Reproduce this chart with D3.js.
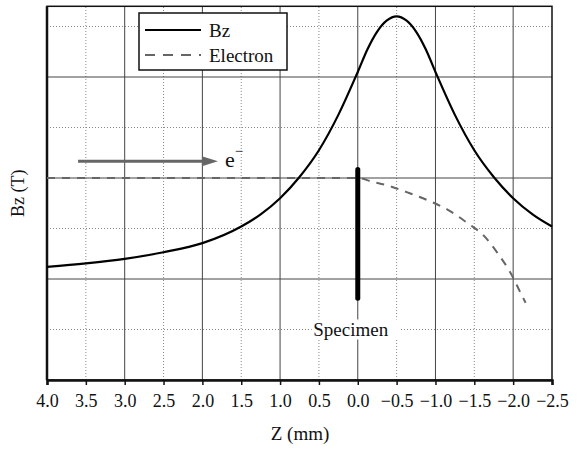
<!DOCTYPE html>
<html>
<head>
<meta charset="utf-8">
<script src="https://cdn.jsdelivr.net/npm/d3@7"></script>
<style>
  body { margin: 0; background: #fff; }
  svg text { font-family: "Liberation Serif", "Times New Roman", "DejaVu Serif", serif; fill: #111; }
</style>
</head>
<body>
<div id="chart"></div>
<script>
// Bz field profile along the optical axis
const bzZ = [4.0, 3.5, 3.0, 2.5, 2.0, 1.5, 1.25, 1.0, 0.75, 0.5, 0.25, 0.0, -0.125, -0.25, -0.375, -0.5,
             -0.625, -0.75, -0.875, -1.0, -1.25, -1.5, -1.75, -2.0, -2.25, -2.5];
const bzVal = [2.24, 2.31, 2.40, 2.53, 2.71, 3.04, 3.28, 3.60, 4.02, 4.55, 5.25, 6.1, 6.55, 6.9, 7.12, 7.2,
               7.12, 6.9, 6.55, 6.1, 5.25, 4.55, 4.02, 3.60, 3.28, 3.04];

// electron trajectory
const elZ = [4.0, 2.0, 0.0, -0.18, -0.41, -0.63, -0.9, -1.16, -1.41, -1.64, -1.8, -1.96, -2.11, -2.16];
const elVal = [4.0, 4.0, 4.0, 3.93, 3.84, 3.72, 3.56, 3.37, 3.11, 2.83, 2.51, 2.14, 1.68, 1.53];

const xTicks = [4.0, 3.5, 3.0, 2.5, 2.0, 1.5, 1.0, 0.5, 0.0, -0.5, -1.0, -1.5, -2.0, -2.5];
const xMajor = [3.0, 2.0, 1.0, 0.0, -1.0, -2.0];
const yGrid = [1, 2, 3, 4, 5, 6, 7];
const yMajor = [2, 4, 6];

// annotations
const arrowZ = [3.6, 1.8];
const arrowB = 4.33;
const specimenZ = 0.0;
const specimenB = [4.17, 1.62];

const W = 582, H = 450;
const serif = "Liberation Serif, Times New Roman, DejaVu Serif, serif";
const svg = d3.select("#chart").append("svg")
    .attr("width", W)
    .attr("height", H)
    .attr("font-family", serif);

const x = d3.scaleLinear().domain([4.0, -2.5]).range([47, 552]);
const y = d3.scaleLinear().domain([0, 7.4]).range([380, 6.3]);

// grid
const grid = svg.append("g");
grid.selectAll(".vg")
    .data(xTicks.slice(1, -1))
    .enter().append("line")
    .attr("x1", d => x(d)).attr("x2", d => x(d))
    .attr("y1", y(0)).attr("y2", y(7.4))
    .attr("stroke", d => xMajor.includes(d) ? "#444" : "#888")
    .attr("stroke-width", 1)
    .attr("stroke-dasharray", d => xMajor.includes(d) ? null : "1,2");

grid.selectAll(".hg")
    .data(yGrid)
    .enter().append("line")
    .attr("x1", x(4.0)).attr("x2", x(-2.5))
    .attr("y1", d => y(d)).attr("y2", d => y(d))
    .attr("stroke", d => yMajor.includes(d) ? "#444" : "#888")
    .attr("stroke-width", 1)
    .attr("stroke-dasharray", d => yMajor.includes(d) ? null : "1,2");

// frame
svg.append("rect")
    .attr("x", x(4.0)).attr("y", y(7.4))
    .attr("width", x(-2.5) - x(4.0))
    .attr("height", y(0) - y(7.4))
    .attr("fill", "none")
    .attr("stroke", "#111")
    .attr("stroke-width", 1.5);

// x axis
const xAxis = d3.axisBottom(x)
    .tickValues(xTicks)
    .tickSize(5)
    .tickFormat(d3.format(".1f"));

const gx = svg.append("g")
    .attr("transform", `translate(0,${y(0)})`)
    .call(xAxis)
    .attr("font-family", serif);
gx.select(".domain").attr("stroke", "#111").attr("stroke-width", 2.5);
gx.selectAll(".tick line").attr("stroke", "#111").attr("stroke-width", 1.5);
gx.selectAll(".tick text")
    .attr("y", 14)
    .style("font-size", "18px")
    .attr("fill", "#111");

// left axis line
svg.append("line")
    .attr("x1", x(4.0)).attr("x2", x(4.0))
    .attr("y1", y(0)).attr("y2", y(7.4))
    .attr("stroke", "#111")
    .attr("stroke-width", 2.5);

// Specimen label with white background
const specG = svg.append("g");
specG.append("rect")
    .attr("x", x(specimenZ) - 46).attr("y", y(1) - 10)
    .attr("width", 88).attr("height", 20)
    .attr("fill", "#fff");
specG.append("text")
    .attr("x", x(specimenZ) - 7)
    .attr("y", y(1) + 6)
    .attr("text-anchor", "middle")
    .style("font-size", "19px")
    .text("Specimen");

// electron path
const elData = elZ.map((z, i) => [z, elVal[i]]);
svg.append("path")
    .datum(elData)
    .attr("fill", "none")
    .attr("stroke", "#666")
    .attr("stroke-width", 2)
    .attr("stroke-dasharray", "8,7")
    .attr("d", d3.line()
        .x(d => x(d[0]))
        .y(d => y(d[1]))
        .curve(d3.curveMonotoneX));

// Bz curve
const bzData = bzZ.map((z, i) => [z, bzVal[i]]);
svg.append("path")
    .datum(bzData)
    .attr("fill", "none")
    .attr("stroke", "#000")
    .attr("stroke-width", 2.2)
    .attr("d", d3.line()
        .x(d => x(d[0]))
        .y(d => y(d[1]))
        .curve(d3.curveMonotoneX));

// specimen bar
svg.append("line")
    .attr("x1", x(specimenZ)).attr("x2", x(specimenZ))
    .attr("y1", y(specimenB[0])).attr("y2", y(specimenB[1]))
    .attr("stroke", "#000")
    .attr("stroke-width", 5)
    .attr("stroke-linecap", "round");

// electron arrow
svg.append("line")
    .attr("x1", x(arrowZ[0])).attr("x2", x(arrowZ[1]) - 12)
    .attr("y1", y(arrowB)).attr("y2", y(arrowB))
    .attr("stroke", "#666")
    .attr("stroke-width", 3);
const ax = x(arrowZ[1]), ay = y(arrowB);
svg.append("path")
    .attr("d", `M${ax},${ay} L${ax - 16},${ay - 5} L${ax - 16},${ay + 5} Z`)
    .attr("fill", "#666");
const eText = svg.append("text")
    .attr("x", ax + 7)
    .attr("y", ay + 6)
    .style("font-size", "22px");
eText.append("tspan").text("e");
eText.append("tspan")
    .attr("dy", -11)
    .style("font-size", "15px")
    .text("\u2212");

// legend
const leg = svg.append("g").attr("transform", "translate(139,13)");
leg.append("rect")
    .attr("width", 148).attr("height", 57)
    .attr("fill", "#fff")
    .attr("stroke", "#111")
    .attr("stroke-width", 1.5);
leg.append("line")
    .attr("x1", 6).attr("x2", 62).attr("y1", 17).attr("y2", 17)
    .attr("stroke", "#000").attr("stroke-width", 2.2);
leg.append("line")
    .attr("x1", 6).attr("x2", 62).attr("y1", 42).attr("y2", 42)
    .attr("stroke", "#666").attr("stroke-width", 2)
    .attr("stroke-dasharray", "10,8");
leg.append("text").attr("x", 70).attr("y", 24).style("font-size", "19px").text("Bz");
leg.append("text").attr("x", 70).attr("y", 49).style("font-size", "19px").text("Electron");

// axis titles
svg.append("text")
    .attr("transform", `translate(24,${y(3.7)}) rotate(-90)`)
    .attr("text-anchor", "middle")
    .style("font-size", "18px")
    .text("Bz (T)");

svg.append("text")
    .attr("x", 300)
    .attr("y", 440)
    .attr("text-anchor", "middle")
    .style("font-size", "19px")
    .text("Z (mm)");
</script>
</body>
</html>
